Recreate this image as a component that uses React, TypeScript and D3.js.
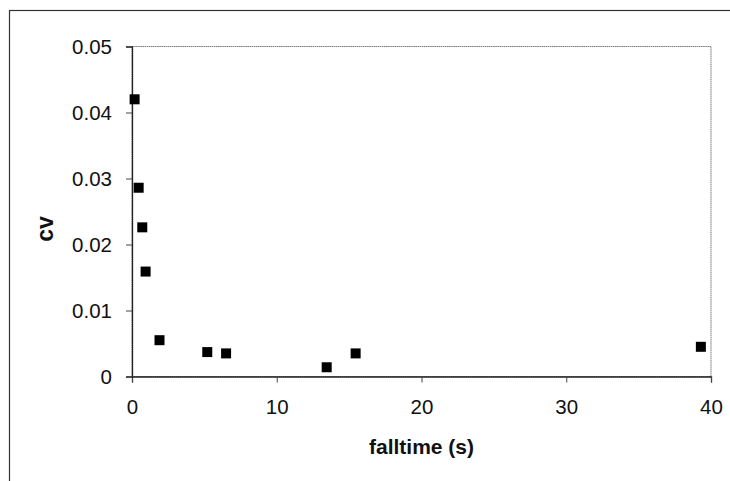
import * as d3 from 'd3';
import { useEffect, useRef } from 'react';

// falltime (s) vs cv
const falltime = [0.18, 0.46, 0.71, 0.94, 1.9, 5.2, 6.5, 13.45, 15.45, 39.3];
const cv = [0.042, 0.0286, 0.0226, 0.0159, 0.0055, 0.0037, 0.0035, 0.0014, 0.0035, 0.0045];
const xTicks = [0, 10, 20, 30, 40];
const yTicks = [0, 0.01, 0.02, 0.03, 0.04, 0.05];

export default function App() {
  const ref = useRef<SVGSVGElement>(null);

  useEffect(() => {
    const W = 730;
    const H = 481;
    const margin = { left: 132, top: 46.5, right: 19, bottom: 104.5 };
    const w = W - margin.left - margin.right;
    const h = H - margin.top - margin.bottom;

    const svg = d3.select(ref.current);
    svg.selectAll('*').remove();

    // outer chart border
    svg.append('rect')
      .attr('x', 9.5)
      .attr('y', 10.5)
      .attr('width', W + 20)
      .attr('height', H + 20)
      .attr('fill', 'none')
      .attr('stroke', '#333')
      .attr('stroke-width', 1.2);

    const g = svg.append('g')
      .attr('transform', `translate(${margin.left},${margin.top})`);

    const x = d3.scaleLinear().domain([0, 40]).range([0, w]);
    const y = d3.scaleLinear().domain([0, 0.05]).range([h, 0]);

    // plot area border
    g.append('rect')
      .attr('width', w)
      .attr('height', h)
      .attr('fill', 'none')
      .attr('stroke', '#777')
      .attr('stroke-width', 1)
      .attr('stroke-dasharray', '1.5,0.6');

    // X axis
    const xAxis = g.append('g')
      .attr('transform', `translate(0,${h})`)
      .call(d3.axisBottom(x).tickValues(xTicks).tickSize(6).tickPadding(17).tickFormat(d3.format('d')));
    xAxis.select('.domain').attr('stroke', '#222').attr('stroke-width', 1.3);
    xAxis.selectAll('line').attr('stroke', '#444');
    xAxis.selectAll('text')
      .attr('font-family', 'Liberation Sans, Arial, sans-serif')
      .attr('font-size', 20.5)
      .attr('fill', '#111');

    // Y axis
    const yAxis = g.append('g')
      .call(d3.axisLeft(y).tickValues(yTicks).tickSize(6).tickPadding(14)
        .tickFormat((d) => (d === 0 ? '0' : d3.format('.2f')(d as number))));
    yAxis.select('.domain').attr('stroke', '#222').attr('stroke-width', 1.3);
    yAxis.selectAll('line').attr('stroke', '#444');
    yAxis.selectAll('text')
      .attr('font-family', 'Liberation Sans, Arial, sans-serif')
      .attr('font-size', 20.5)
      .attr('fill', '#111');

    // points
    const s = 10;
    g.selectAll('rect.pt')
      .data(falltime)
      .enter()
      .append('rect')
      .attr('class', 'pt')
      .attr('x', (d) => x(d) - s / 2)
      .attr('y', (d, i) => y(cv[i]) - s / 2)
      .attr('width', s)
      .attr('height', s)
      .attr('fill', '#000');

    // axis titles
    svg.append('text')
      .attr('x', margin.left + w / 2)
      .attr('y', 454)
      .attr('text-anchor', 'middle')
      .attr('font-family', 'Liberation Sans, Arial, sans-serif')
      .attr('font-weight', 'bold')
      .attr('font-size', 21)
      .attr('fill', '#111')
      .text('falltime (s)');

    svg.append('text')
      .attr('transform', `translate(53,229) rotate(-90)`)
      .attr('text-anchor', 'middle')
      .attr('font-family', 'Liberation Sans, Arial, sans-serif')
      .attr('font-weight', 'bold')
      .attr('font-size', 23)
      .attr('fill', '#111')
      .text('cv');
  }, []);

  return (
    <svg
      ref={ref}
      width={730}
      height={481}
      style={{ position: 'absolute', left: 0, top: 0, background: '#fff' }}
    />
  );
}
